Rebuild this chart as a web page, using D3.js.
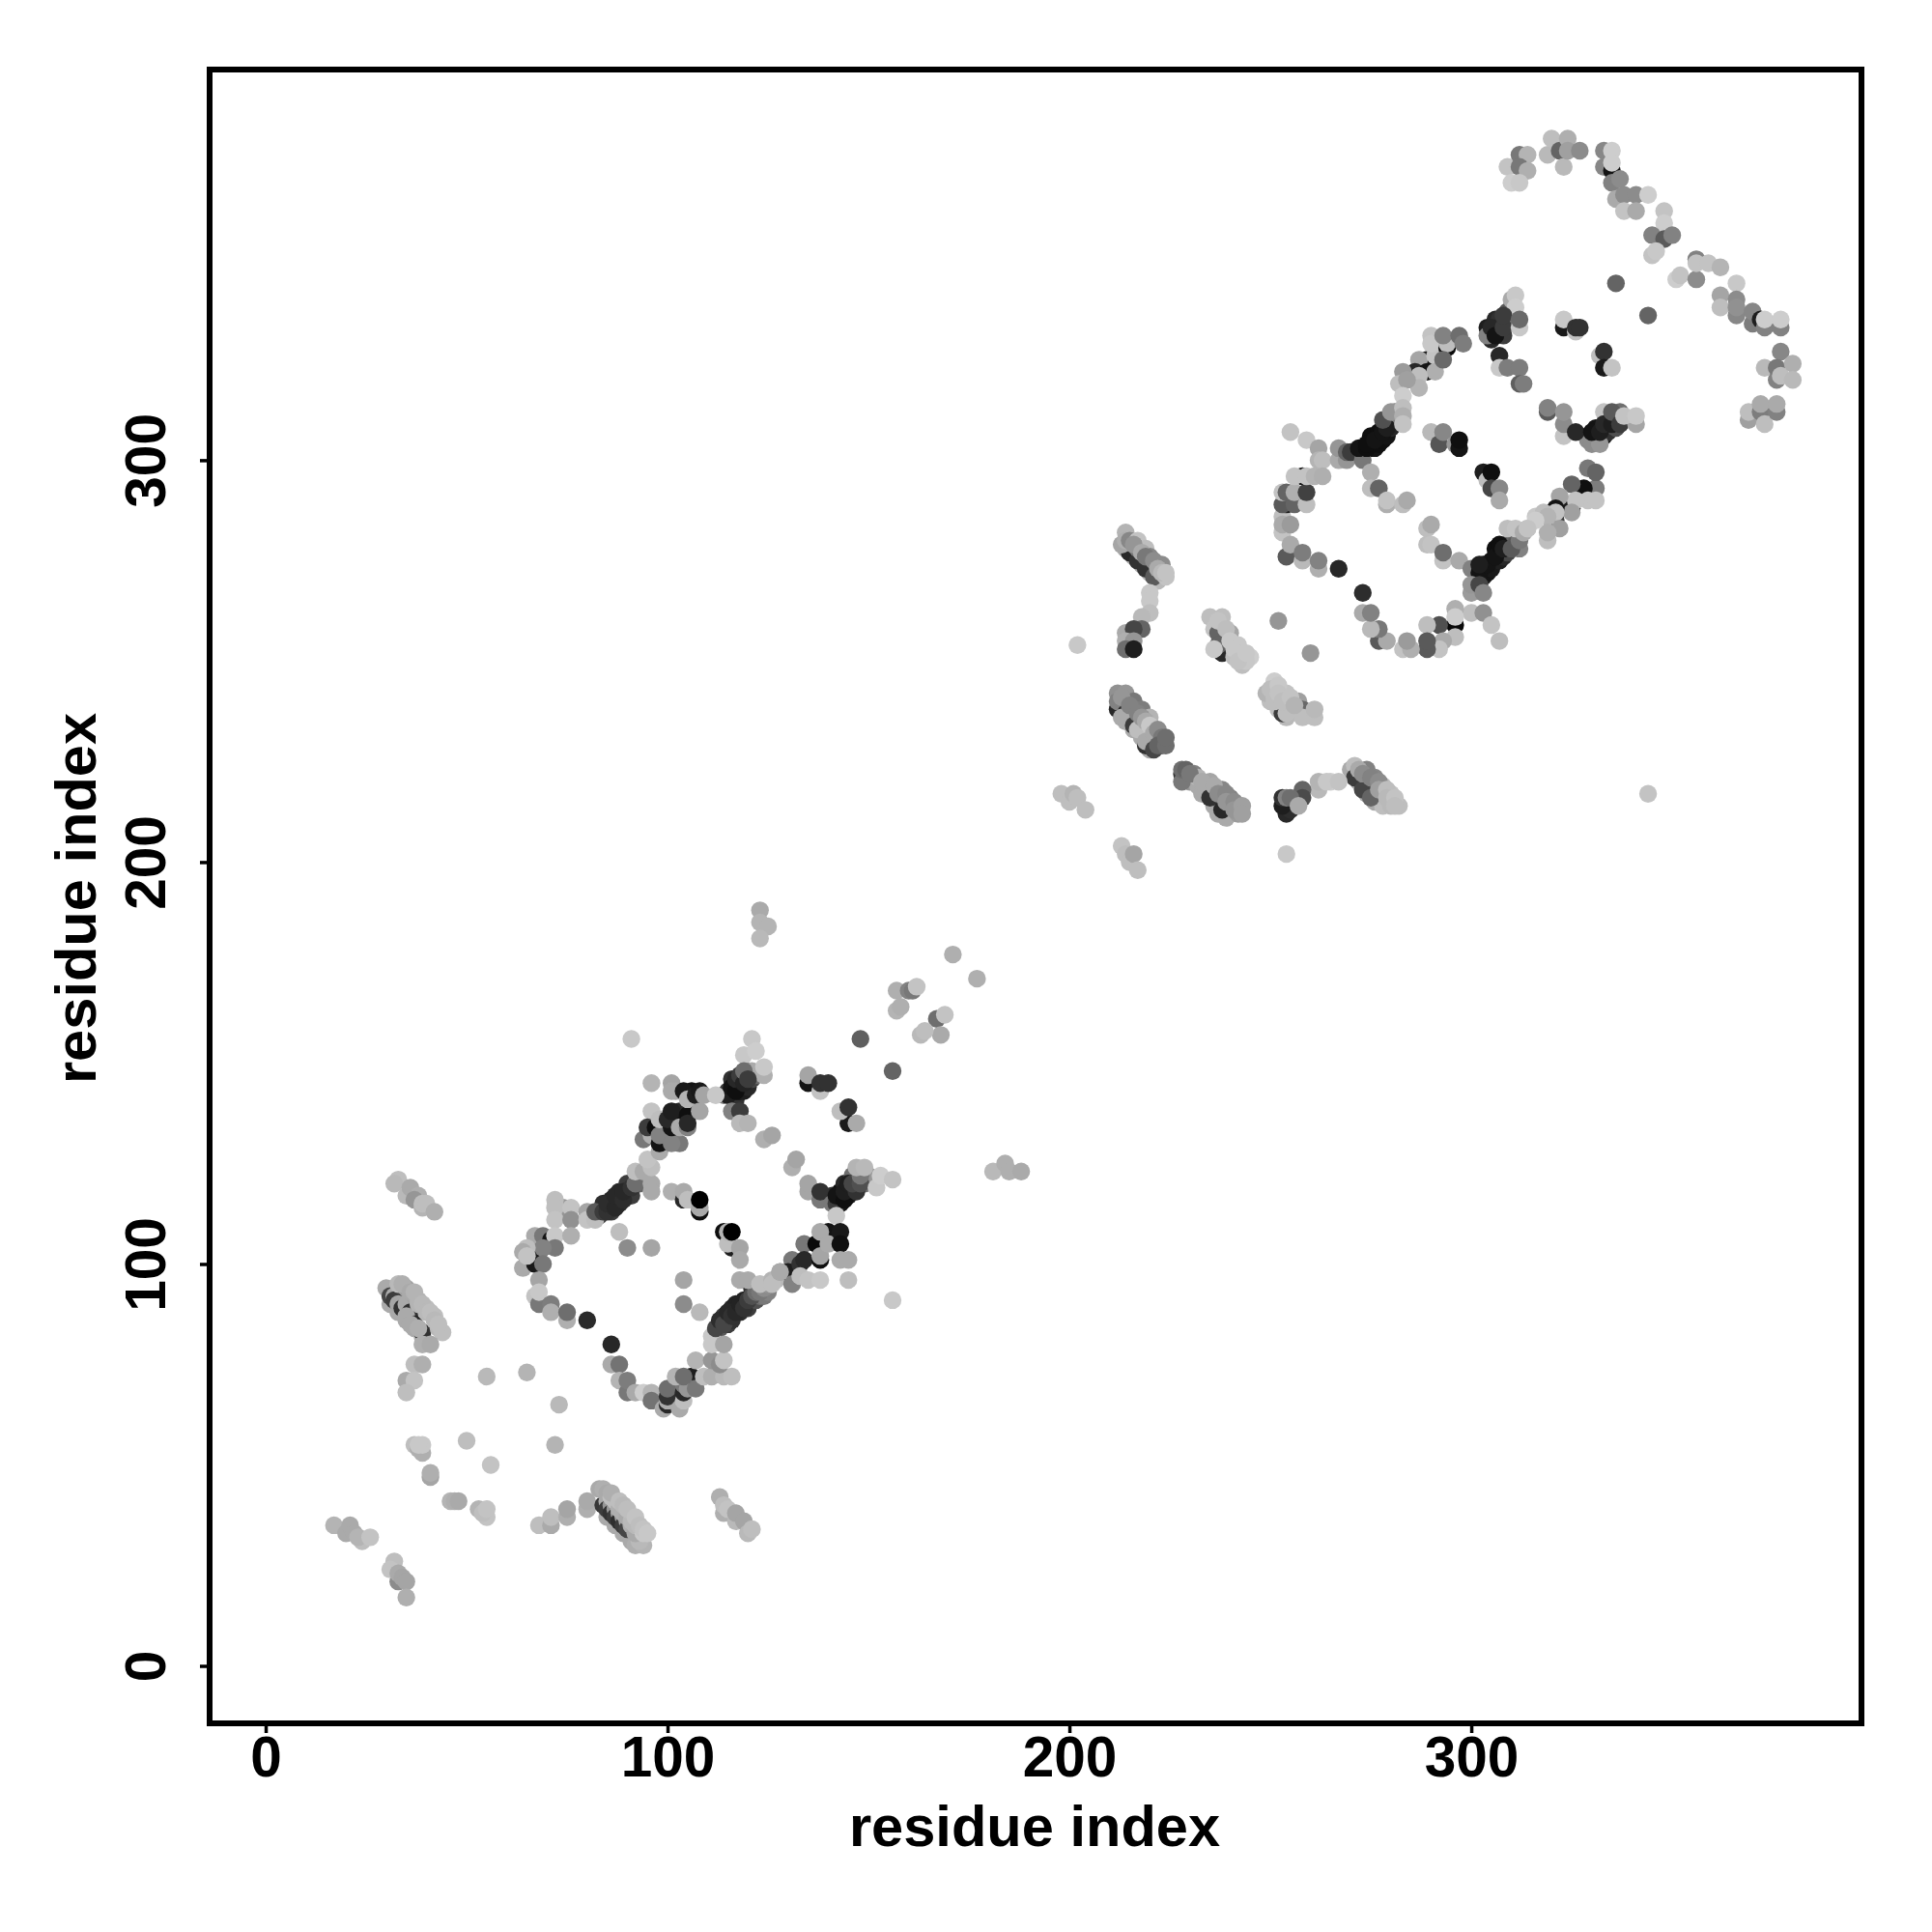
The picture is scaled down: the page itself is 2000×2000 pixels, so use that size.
<!DOCTYPE html>
<html><head><meta charset="utf-8">
<script src="https://cdn.jsdelivr.net/npm/d3@7/dist/d3.min.js"></script>
<style>html,body{margin:0;background:#fff}</style></head><body>
<svg id="c" width="2000" height="2000"></svg>
<script>
// [residue i, residue j, shade level]
const tickValues=[0,100,200,300];
const axisLabel="residue index";
const bandUnder=[[85,37,170],[87,35,170],[89,33,170],[91,31,170],[92,30,175],
[31,90,170],[33,88,170],[35,86,170],[37,84,170],[39,82,175],
[113,84,90],[114,87,60],[115,85,60],[116,86,50],[116,89,40],[117,90,35],[118,88,45],[119,91,35],[120,89,60],[121,94,50],[122,91,80],[123,92,110],[124,92,120],[125,93,130],
[83,112,70],[84,115,45],[86,113,60],[86,116,40],[88,115,45],[88,118,40],[90,117,45],[90,120,60],[91,117,60],[93,120,100],
[116,142,25],[116,146,50],[117,141,50],[118,143,20],[118,145,25],[119,143,30],[120,144,40],[120,148,90],[121,146,70],[122,147,110],
[141,117,50],[143,115,20],[143,118,15],[145,117,25],[146,118,30],[147,120,60],[144,120,40],[146,122,110],[149,120,110],[149,122,130],[150,122,150],
[99,132,15],[100,134,15],[99,136,60],[101,132,35],[103,136,25],[103,138,40],[104,135,20],[103,130,120],[106,143,20],[106,141,50],
[273,302,25],[275,303,15],[275,306,15],[276,303,20],[277,304,15],[277,307,15],[278,305,15],[279,306,20],[279,310,50],[280,308,40],[281,310,80],[281,312,120],[282,311,130],
[303,271,30],[303,274,20],[304,272,20],[305,275,20],[305,273,25],[306,278,15],[307,275,30],[308,276,40],[309,279,40],[309,277,70],[310,280,100],[311,279,90],[312,278,130],
[304,333,30],[305,330,40],[306,333,25],[306,335,40],[307,332,30],[307,335,50],[308,331,60],[309,334,60],[309,337,90],[310,335,120],
[331,305,25],[331,308,20],[333,306,25],[334,310,40],[334,307,50],[336,311,70],[336,308,80],[329,306,40],[329,305,140],[337,312,110],
[214,278,170],[216,276,170],[218,274,170],[220,272,180],[222,270,185],[214,235,170],[216,233,170],[218,231,170],[220,228,170],[230,220,150],[232,219,170],[234,218,180],[236,214,170],[239,211,170],[240,212,170],
[272,220,170],[274,217,170],[276,215,170],[278,214,190],[238,256,170],[239,253,190],[250,240,190],[252,238,190],[254,236,185]];
const lowerLeft=[[55,72,185],[65,73,180],[73,65,185],[50,56,190],[72,55,180],[56,50,195],
[37,55,190],[38,54,175],[39,53,175],[39,55,200],[38,55,200],[41,47,165],[41,48,175],[37,75,190],[39,75,175],[35,71,170],[37,71,195],[35,68,190],
[46,41,180],[47,41,175],[48,41,170],[53,39,180],[55,37,195],[54,38,190],[55,39,195],[68,35,190],[71,35,170],[71,37,190],[75,37,175],[75,39,165],[80,39,175],[80,41,170],
[17,35,180],[20,33,170],[21,35,170],[22,33,170],[24,31,190],[23,32,180],[26,32,195],
[32,26,190],[33,21,140],[31,24,195],[33,23,170],[34,22,165],[35,21,165],[35,17,175],
[113,42,175],[114,38,175],[114,40,190],[115,39,195],[117,36,185],[117,38,165],[119,36,165],[120,33,185],[121,34,190]];
const sheetA=[[94,30,180],[93,31,185],[84,40,55],[85,41,170],[85,39,60],[86,40,150],[86,38,50],[87,39,150],[87,37,60],[88,38,160],[88,36,45],[89,37,160],[89,35,60],[90,36,170],[90,34,70],[91,35,175],[92,33,170],
[83,44,170],[84,44,175],[85,43,170],[86,42,190],[87,41,190],[88,39,175],[89,38,175],[90,37,170],[91,36,185],[92,35,185],[94,33,200]];
const sheetB=[[33,121,190],[32,120,185],[35,117,185],[36,119,170],[38,117,175],[37,116,150],[39,114,180],[39,115,190],[40,115,190],[42,113,175],
[30,94,170],[31,92,70],[32,92,170],[32,91,60],[33,90,165],[34,89,50],[35,90,170],[36,88,50],[35,87,170],[37,85,35],[36,85,170],[39,83,50],[38,84,175],
[33,95,185],[35,94,160],[37,92,165],[38,90,180],[40,89,190],[42,87,190],[43,84,185],[44,83,190],[39,80,175],[41,80,170]];
const ringOneBottom=[[80,86,42],[86,80,40],[88,108,190],[90,104,140],[96,104,165],[104,96,165],[104,90,140],[108,88,185],
[86,75,170],[88,75,115],[88,71,180],[90,68,120],[90,71,125],[92,68,170],[94,68,205],[96,68,180],[96,66,115],[99,64,170],[100,65,40],[100,66,170],[100,67,50],[100,69,110],[103,64,170],[104,66,190],[104,68,40],[104,70,120],[102,72,180],[106,72,30],[105,69,150],[107,69,120],[104,72,110],
[107,76,180],[109,72,190],[111,72,175],[114,72,185],[116,72,190],[111,76,150],[113,75,140],[114,76,195],[111,82,200],[111,80,200],[114,80,165],
[112,84,70],[113,86,45],[114,85,70],[115,88,40],[116,87,50],[117,88,40],[118,90,35],[119,89,50],[120,91,60],[121,92,80],[122,93,110],[123,93,120],[124,94,140],[125,95,150],
[118,96,170],[120,96,170],[123,95,190],[126,96,180],[127,96,185],[126,95,190],[128,98,165]];
const ringOneLeft=[[67,107,170],[69,107,120],[74,114,150],[72,116,190],[72,114,190],[72,111,195],[76,114,195],[76,111,145],[71,106,20],[72,107,200],[76,107,175],[72,104,120],[68,103,30],[69,104,130],[65,104,190],[64,103,170],[65,100,30],[64,99,170],[67,100,25],[69,100,120],[65,102,195],[68,96,165],[67,92,195],[68,90,120],[68,93,200],[71,90,125],[71,88,175],[75,86,175],[75,88,110],
[80,113,165],[80,111,195],[82,111,190],[82,113,90],[84,113,60],[85,113,50],[85,115,45],[87,114,40],[87,117,40],[89,116,45],[89,118,40],[91,119,50],[92,120,110],[92,123,190],[94,123,170],[96,120,170],[96,118,170],[96,124,190],[95,126,195],
[101,118,175],[104,116,40],[104,118,170],[105,116,190],[108,113,15],[108,114,170],[108,116,0],[114,108,15],[116,104,30],[115,105,190],[115,108,180],[116,108,0],[118,104,165],[118,101,170]];
const ringOneTop=[[91,156,200],[148,156,95],[156,148,100],[121,156,200],[119,152,200],[122,153,205],[121,148,170],[124,147,175],[124,149,200],
[114,142,120],[115,143,60],[115,142,30],[116,144,20],[117,143,15],[117,146,40],[118,147,60],[119,145,35],[119,148,110],[120,146,60],
[116,138,130],[118,138,60],[118,135,185],[120,135,180],[124,131,175],[126,132,165],[131,124,175],[132,126,165],[135,145,20],[135,147,165],[138,143,195],[138,145,50],[140,145,50],[145,135,25],[147,135,170],[143,138,190],[145,139,50],
[135,118,165],[135,120,165],[138,116,120],[138,118,50],[141,115,120],[142,115,60],[142,117,20],[144,116,15],[144,118,30],[145,120,30],[147,118,50],[146,120,70],[148,120,80],[148,122,120],[147,124,180],[149,124,185],[152,119,200],[153,122,205],[156,121,195],[142,112,200],
[134,105,120],[131,101,120],[130,98,30],[131,95,130],[128,98,170],[133,100,50],[134,101,40],[133,97,190],[137,105,10],[140,108,20],[138,108,170],[138,101,15],[138,102,165],[135,96,195],[138,96,200],[140,105,170],[143,108,25],[143,105,15],[143,101,170],[145,101,170],[145,96,190],[156,91,200],
[96,145,180],[101,145,165],[101,143,170],[96,138,195],[94,131,120],[96,132,175],[95,134,60],[98,128,170],[98,130,20],[97,134,15],[98,132,130],[98,136,190],[101,130,130],[101,134,20],[100,136,40],[101,138,30],[103,134,170],[105,134,130],[105,137,15],[105,135,40],[102,143,170],[104,143,25],[105,141,180],[107,142,30],[108,143,25],[108,138,165],[109,142,165],[112,142,200]];
const tailOne=[[123,188,170],[123,185,180],[125,184,180],[123,181,185],[171,177,175],[177,171,175],[157,168,175],[160,168,130],[161,168,120],[162,169,195],[157,163,180],[158,164,175],[167,161,110],[169,162,195],[168,157,170],[163,157,185],[164,158,190],[181,123,185],[184,125,175],[185,123,175],[188,123,170]];
const domainTwoSheets=[[202,254,200],[252,260,150],[260,252,150],[267,273,40],[254,202,200],
[215,277,40],[217,275,50],[219,273,50],[221,271,90],[213,279,165],[214,282,180],[214,280,175],[215,280,135],[217,280,195],[217,278,120],[219,278,190],[220,276,135],[223,274,140],[224,271,195],
[220,267,200],[220,265,200],[220,262,190],[218,261,185],[214,257,170],[218,258,100],[216,258,70],[214,255,175],[216,255,150],[214,253,110],[216,253,30],
[235,261,190],[238,261,190],[236,258,195],[237,257,100],[240,257,165],[238,252,40],[237,254,100],[236,253,200],[242,254,200],[241,251,190],[243,249,190],[245,251,205],
[251,245,205],[249,242,180],[251,241,190],[253,237,60],[251,240,190],[254,242,195],[257,240,160],[258,238,105],[258,236,190],[254,237,190],[261,236,190],[261,238,185],
[212,242,145],[214,242,150],[212,238,40],[212,240,130],[214,237,40],[213,236,170],[216,240,120],[216,234,60],[217,233,190],[218,238,125],[220,236,180],[219,229,50],[219,230,170],[221,233,205],[221,228,70],[222,231,110],[223,229,95],
[228,222,50],[228,220,120],[228,223,110],[229,223,100],[231,222,130],[232,221,180],[233,217,170],[235,220,165],[235,216,50],[238,218,135],[237,212,170],[238,213,40],[240,216,130],[242,212,155],[242,213,160],
[198,217,190],[200,215,190],[201,217,180],[202,216,190],[204,213,190],[213,204,195],[214,202,190],[215,200,190],[216,202,165],[217,198,190]];
const domainTwoRight=[[344,217,195],[270,223,170],[271,224,190],[271,221,60],[274,223,130],[273,218,70],[276,221,135],[275,216,100],[278,219,190],[280,217,195],[280,214,185],[282,214,190],
[262,218,185],[262,220,180],[265,220,205],[264,220,200],[267,220,195],[258,218,100],[258,216,75],[254,212,40],[255,213,45],[253,214,30],[253,216,50],[254,216,130],[255,216,110],[257,214,170]];
const ringTwoLower=[[273,267,45],[255,307,195],[259,305,200],[262,303,165],[262,300,180],[263,300,190],[267,300,170],[267,303,150],[269,300,150],[269,302,100],[270,302,60],[273,300,120],
[272,303,20],[274,303,15],[274,304,15],[276,305,20],[278,307,20],[279,308,30],[278,310,80],[280,312,150],[275,297,175],[275,293,190],[277,293,100],[279,289,175],[279,290,195],[283,289,190],[284,290,170],
[290,307,185],[292,304,85],[293,307,135],[296,304,150],[297,303,20],[297,305,15],[303,297,30],[304,295,190],[305,297,15],[305,293,70],[307,293,135],[307,290,170],
[289,283,190],[290,284,170],[289,279,190],[290,279,195],[293,275,195],[293,277,110],[297,275,170],[300,273,130],
[302,272,20],[304,274,20],[302,274,30],[306,276,20],[307,279,15],[308,278,30],[310,278,90],[312,280,120],[309,283,190],[311,283,195],[313,282,170],[314,283,190],[316,286,200],
[300,267,155],[300,269,150],[302,269,70],[303,267,135],[300,262,190],[303,262,145],[305,259,195],[307,255,190],
[296,263,175],[296,259,10],[296,261,205],[296,256,190],[292,259,80],[293,255,170],[292,253,195],[289,259,190],[289,253,90],[289,255,90],[283,253,195],[285,253,175],[284,255,155],[277,255,90],[279,255,170],[277,258,120],[275,258,185],[273,262,170],[275,262,130],
[253,286,190],[253,282,195],[253,284,170],[255,284,155],[254,276,90],[255,279,170],[258,275,185],[258,277,125],[262,273,175],[262,275,130],[254,289,30],[253,289,90],[256,289,100],[259,289,190],[253,292,195],[254,292,100],[256,292,175],[259,292,65],[258,296,20],[256,296,195],[259,296,195],[261,296,180],[263,296,175]];
const ringTwoUpper=[[336,344,100],[344,336,100],[310,340,170],[311,341,200],[311,338,205],
[304,331,130],[305,333,40],[306,331,20],[308,333,60],[308,336,60],[312,333,200],[312,335,105],[307,326,40],[307,323,200],[309,323,125],[312,323,125],[312,319,95],[313,319,125],
[323,333,25],[323,335,200],[326,332,195],[326,333,50],[327,333,50],[332,326,190],[333,327,50],[333,323,25],[335,323,195],
[319,312,90],[319,313,130],[323,306,195],[323,309,140],[323,312,150],[326,307,40],[330,304,140],[332,304,150],[330,307,20],[332,307,30],[333,312,195],[333,309,40],[335,309,30],[335,312,90],[337,309,60],[341,309,165],[338,311,195],[341,311,200],
[329,298,120],[331,293,125],[331,297,100],[328,293,15],[329,290,195],[331,290,195],[325,294,100],[325,288,30],[326,290,195],[325,287,160],[322,291,165],[321,285,60],[321,288,20],[321,287,195],[322,283,160],[318,287,190],[319,286,180],[319,280,190],[319,282,175],[316,285,205],[314,283,195],
[289,325,25],[287,325,165],[286,322,40],[289,322,20],[291,326,195],[291,322,175],[287,321,190],[283,322,155],[282,319,190],[287,318,180],[284,320,160],[283,316,205],[283,313,190],[283,311,175],[283,309,195],
[290,331,195],[290,329,200],[294,328,10],[294,329,190],[293,325,105],[293,331,130],[297,331,110],[298,329,125]];
const tailTwo=[[309,373,195],[312,376,120],[314,376,180],[312,373,120],[314,372,175],[310,369,205],[312,369,200],[319,376,185],[320,380,190],[322,377,100],[323,373,185],[324,380,175],[324,377,160],[327,377,140],
[333,377,135],[335,377,205],[333,373,135],[335,372,20],[335,374,205],[335,369,130],[337,370,140],[336,365,170],[338,366,140],[341,366,140],[344,366,205],[338,362,195],[341,362,170],[348,362,195],[348,359,205],[345,356,130],[348,355,90],[350,356,130],[345,351,195],[346,352,200],
[351,345,205],[352,346,195],[356,350,130],[356,345,140],[356,349,195],[359,349,195],[362,348,180],[366,344,200],[362,341,165],[366,340,140],[362,338,190],[366,336,135],[366,338,145],[370,334,125],[370,337,135],[372,335,30],[373,333,130],[377,333,130],[373,335,205],[377,335,205],
[377,327,135],[373,323,185],[376,320,130],[376,323,120],[377,321,190],[380,324,175],[380,320,185],[369,310,160],[369,312,190],[372,312,125],[372,314,170],[373,309,190],[376,312,130],[376,314,170]];
const bandOver=[[86,43,175],[88,41,190],[89,40,185],[90,39,190],[92,37,195],[93,35,190],[94,34,195],[95,33,200],
[34,95,175],[36,93,170],[37,93,180],[38,91,180],[39,90,185],[40,88,185],[41,88,190],[42,86,185],[43,85,190],
[216,279,150],[218,277,170],[219,276,120],[221,275,140],[222,273,170],[223,272,185],[224,272,195],
[213,241,150],[215,239,130],[217,237,130],[218,236,150],[219,235,170],[220,234,200],[221,232,170],[222,233,140],[223,231,120],[222,229,100],[224,229,110],[224,231,110],
[230,222,120],[233,220,170],[236,219,170],[237,217,140],[239,217,135],[239,215,150],[241,215,140],[241,213,150],[243,214,160],[243,212,160],
[272,223,170],[273,222,140],[275,221,130],[277,220,140],[277,218,160],[279,218,190],[279,216,185],[281,216,195],[281,214,190],
[237,260,195],[239,258,190],[240,255,200],[241,253,200],[243,252,200],[244,250,200],[242,250,195],[244,252,200],
[250,243,190],[252,244,200],[252,242,195],[253,240,190],[255,241,195],[256,239,180]];

const contacts=[].concat(bandUnder,lowerLeft,sheetA,sheetB,ringOneBottom,ringOneLeft,ringOneTop,tailOne,domainTwoSheets,domainTwoRight,ringTwoLower,ringTwoUpper,tailTwo,bandOver);

const frame={left:217,right:1927,top:72,bottom:1784};
const x=d3.scaleLinear().domain([-13.95,397.1]).range([frame.left,frame.right]);
const y=d3.scaleLinear().domain([-14.3,397.2]).range([frame.bottom,frame.top]);
const shade=d3.scaleLinear().domain([0,255]).range(["#000","#fff"]);
const svg=d3.select("#c");
const font="'Liberation Sans',Arial,sans-serif";

svg.append("g").selectAll("circle").data(contacts).join("circle")
 .attr("cx",d=>x(d[0])).attr("cy",d=>y(d[1])).attr("r",9.2).attr("fill",d=>shade(d[2]));

const gx=svg.append("g").attr("transform",`translate(0,${frame.bottom})`)
 .call(d3.axisBottom(x).tickValues(tickValues).tickFormat(d3.format("d")).tickSizeOuter(0).tickSize(10).tickPadding(14));
const gy=svg.append("g").attr("transform",`translate(${frame.left},0)`)
 .call(d3.axisLeft(y).tickValues(tickValues).tickFormat(d3.format("d")).tickSizeOuter(0).tickSize(10));
[gx,gy].forEach(g=>{g.select(".domain").remove();
 g.selectAll("line").attr("stroke","#000").attr("stroke-width",3.5);
 g.selectAll("text").attr("font-family",font).attr("font-weight",700).attr("font-size",58.5).attr("fill","#000");});
gx.selectAll("text").attr("y",null).attr("dy",null).attr("transform",null).attr("y",55).attr("text-anchor","middle");
gy.selectAll("text").attr("x",null).attr("dy",null).attr("transform",`translate(-46,0) rotate(-90)`).attr("text-anchor","middle").attr("y",0);

svg.append("rect").attr("x",frame.left).attr("y",frame.top).attr("width",frame.right-frame.left).attr("height",frame.bottom-frame.top)
 .attr("fill","none").attr("stroke","#000").attr("stroke-width",6);

svg.append("text").text(axisLabel).attr("x",(frame.left+frame.right)/2-1).attr("y",1911).attr("text-anchor","middle")
 .attr("font-family",font).attr("font-weight",700).attr("font-size",59.6);
svg.append("text").text(axisLabel).attr("transform",`translate(99,${(frame.top+frame.bottom)/2+2}) rotate(-90)`).attr("text-anchor","middle")
 .attr("font-family",font).attr("font-weight",700).attr("font-size",59.6);
</script></body></html>
